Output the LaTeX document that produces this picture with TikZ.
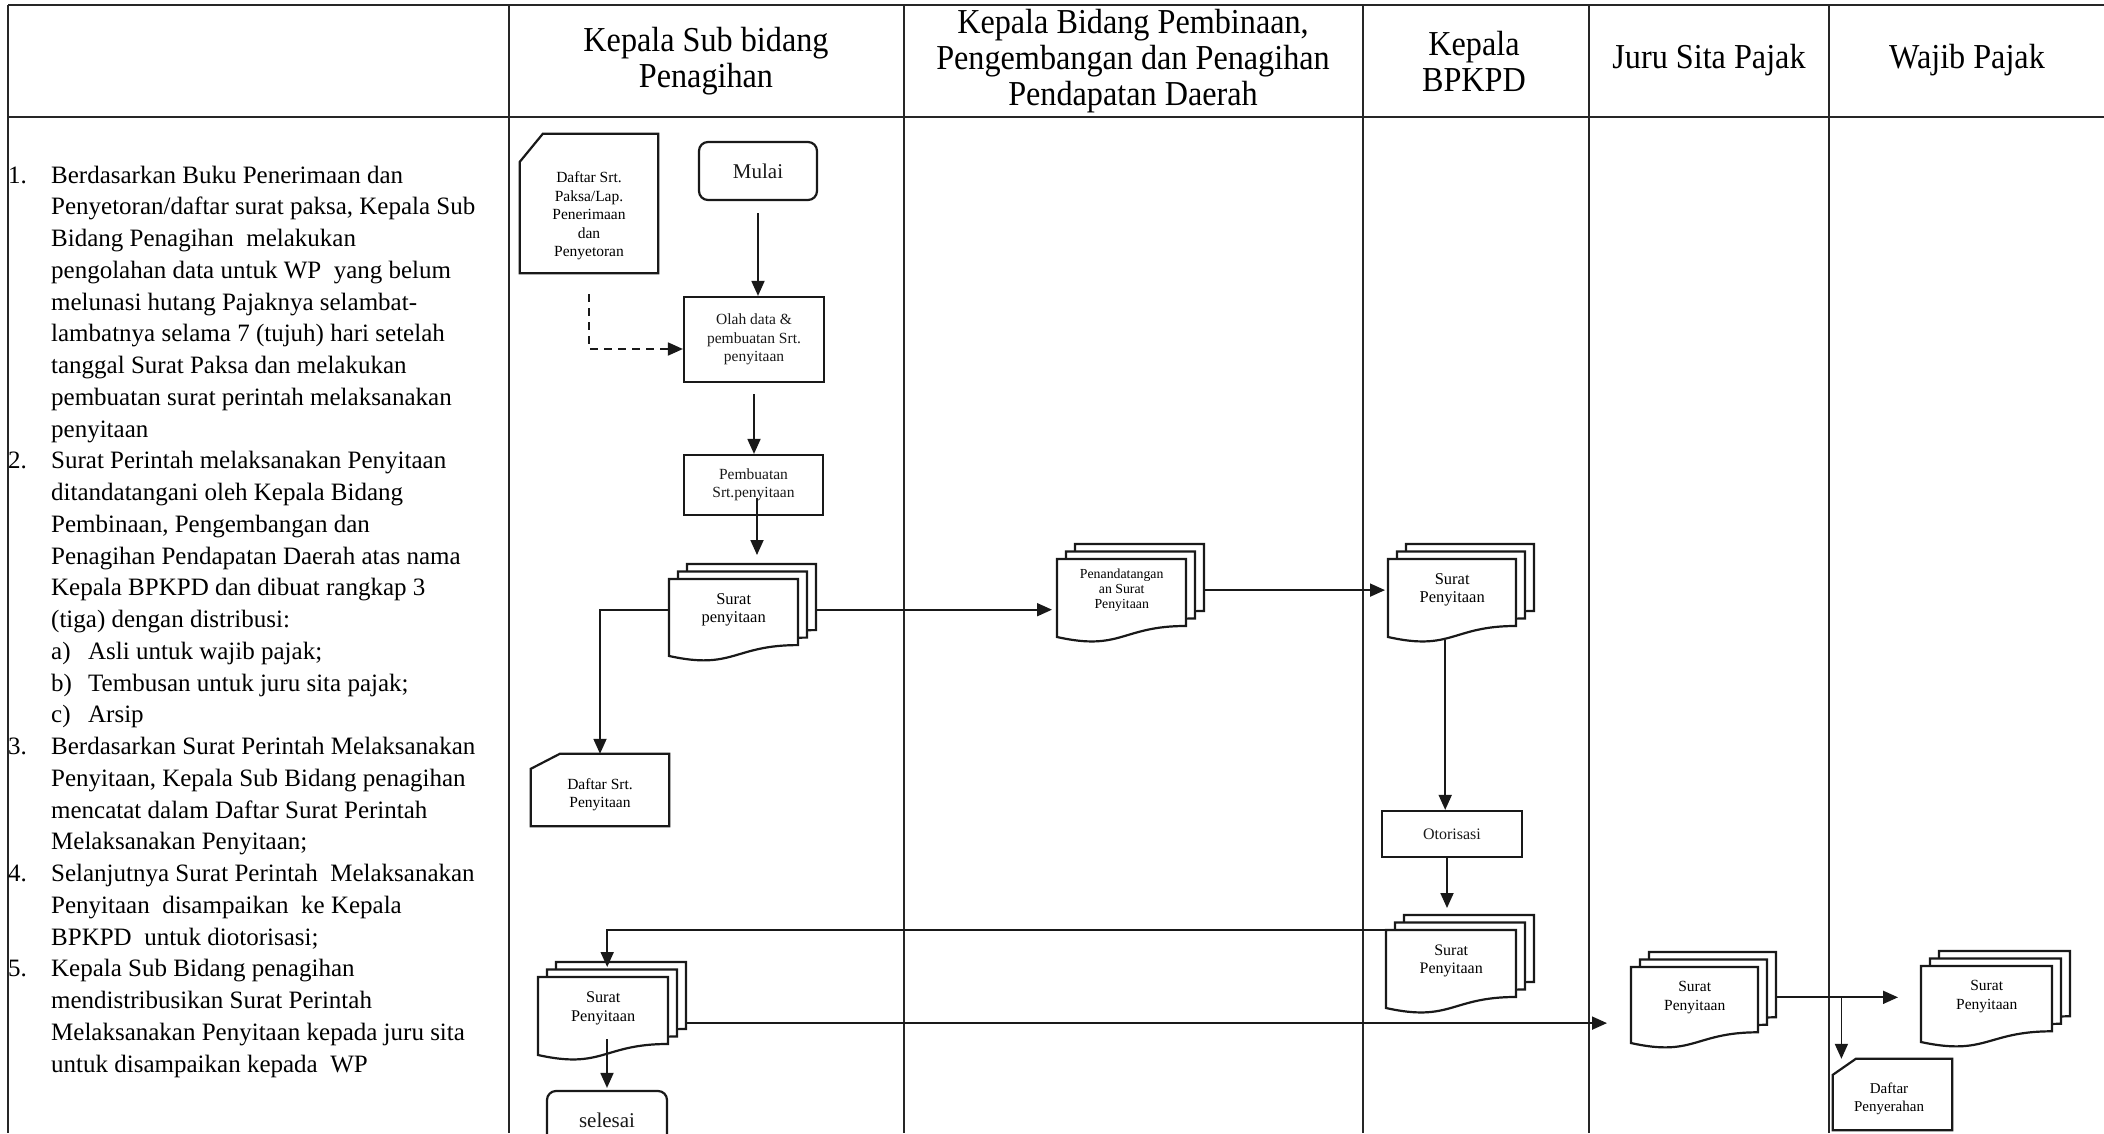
\documentclass[tikz,border=0pt]{standalone}
\usepackage{fontspec}
\setmainfont{Liberation Serif}
\newfontfamily\hdrfont[FakeStretch=0.92]{Liberation Serif}
\usetikzlibrary{arrows.meta,calc}

\tikzset{
  grid/.style={line width=1.3pt, black!85},
  shapeline/.style={line width=2.2pt, black!90},
  box/.style={draw, shapeline, fill=white, inner sep=0pt, align=center},
  term/.style={box, rounded corners=9pt},
  flow/.style={line width=1.8pt, black!90, -{Triangle[length=15pt,width=13pt]}},
  hdr/.style={align=center, font=\hdrfont\fontsize{35}{36}\selectfont},
  small/.style={align=center, font=\fontsize{15.5}{18.5}\selectfont},
  big/.style={align=center, font=\fontsize{21}{24}\selectfont},
}

% stacked "multi-document" symbol: name, x0, y0, width, height, font, text
\newcommand\mdoc[7]{%
  \foreach \k in {2,1,0}{%
    \draw[shapeline, fill=white]
      ({#2+9*\k},{#3-7.5*\k}) -- ({#2+9*\k+#4},{#3-7.5*\k})
      -- ({#2+9*\k+#4},{#3-7.5*\k+0.802*#5})
      .. controls ({#2+9*\k+0.5*#4},{#3-7.5*\k+0.802*#5}) and ({#2+9*\k+0.5*#4},{#3-7.5*\k+1.1075*#5})
      .. ({#2+9*\k},{#3-7.5*\k+0.934*#5}) -- cycle;
  }
  \node[inner sep=0pt, minimum width=#4, minimum height={0.74*#5}, anchor=north west,
        align=center, font=#6] (#1) at (#2,#3) {#7};
}

\begin{document}
\begin{tikzpicture}[x=1pt,y=-1pt]
\useasboundingbox (0,0) rectangle (2104,1133);
\clip (0,0) rectangle (2104,1133);
\fill[white] (0,0) rectangle (2104,1133);

% table frame and swimlane dividers
\draw[grid] (8,5) -- (2104,5);
\draw[grid] (8,117) -- (2104,117);
\foreach \xx in {8,509,904,1363,1589,1829}
  \draw[grid] (\xx,5) -- (\xx,1133);

% lane headings
\node[hdr] (h1) at (706,61) {Kepala Sub bidang\\Penagihan};
\node[hdr] (h2) at (1133,61.5) {Kepala Bidang Pembinaan,\\Pengembangan dan Penagihan\\Pendapatan Daerah};
\node[hdr] (h3) at (1474,61) {Kepala\\BPKPD};
\node[hdr] (h4) at (1709,60) {Juru Sita Pajak};
\node[hdr] (h5) at (1967,60) {Wajib Pajak};

% procedure description
\node[anchor=north west, inner sep=0pt, font=\fontsize{25}{31.75}\selectfont] (steps) at (8,160.8) {%
\begin{tabular}{@{}p{43pt}@{}l@{}}
1. & Berdasarkan Buku Penerimaan dan\\
   & Penyetoran/daftar surat paksa, Kepala Sub\\
   & Bidang Penagihan\ \ melakukan\\
   & pengolahan data untuk WP\ \ yang belum\\
   & melunasi hutang Pajaknya selambat-\\
   & lambatnya selama 7 (tujuh) hari setelah\\
   & tanggal Surat Paksa dan melakukan\\
   & pembuatan surat perintah melaksanakan\\
   & penyitaan\\
2. & Surat Perintah melaksanakan Penyitaan\\
   & ditandatangani oleh Kepala Bidang\\
   & Pembinaan, Pengembangan dan\\
   & Penagihan Pendapatan Daerah atas nama\\
   & Kepala BPKPD dan dibuat rangkap 3\\
   & (tiga) dengan distribusi:\\
   & \makebox[37pt][l]{a)}Asli untuk wajib pajak;\\
   & \makebox[37pt][l]{b)}Tembusan untuk juru sita pajak;\\
   & \makebox[37pt][l]{c)}Arsip\\
3. & Berdasarkan Surat Perintah Melaksanakan\\
   & Penyitaan, Kepala Sub Bidang penagihan\\
   & mencatat dalam Daftar Surat Perintah\\
   & Melaksanakan Penyitaan;\\
4. & Selanjutnya Surat Perintah\ \ Melaksanakan\\
   & Penyitaan\ \ disampaikan\ \ ke Kepala\\
   & BPKPD\ \ untuk diotorisasi;\\
5. & Kepala Sub Bidang penagihan\\
   & mendistribusikan Surat Perintah\\
   & Melaksanakan Penyitaan kepada juru sita\\
   & untuk disampaikan kepada\ \ WP\\
\end{tabular}};

% source document card
\node[minimum width=138, minimum height=139, inner sep=0pt] (card1) at (589,203.5) {};
\draw[shapeline, fill=white] ([yshift=-28pt]card1.north west) -- ([xshift=23pt]card1.north west)
  -- (card1.north east) -- (card1.south east) -- (card1.south west) -- cycle;
\node[small] (card1t) at ([yshift=-12.5pt]card1.center) {Daftar Srt.\\Paksa/Lap.\\Penerimaan\\dan\\Penyetoran};

% process steps of the first lane
\node[term, big, minimum width=118, minimum height=58] (mulai) at (758,171) {Mulai};
\node[box, small, minimum width=140, minimum height=85] (olah) at (754,339.5) {Olah data \&\\pembuatan Srt.\\penyitaan};
\node[box, small, minimum width=139, minimum height=60] (pemb) at (753.5,485) {Pembuatan\\Srt.penyitaan};

\mdoc{sp1}{669}{579}{129}{82.4}{\fontsize{16.5}{18}\selectfont}{Surat\\penyitaan}

\node[minimum width=138, minimum height=72, inner sep=0pt] (card2) at (600,790) {};
\draw[shapeline, fill=white] ([yshift=-15pt]card2.north west) -- ([xshift=29pt]card2.north west)
  -- (card2.north east) -- (card2.south east) -- (card2.south west) -- cycle;
\node[small] (card2t) at ([yshift=-4.5pt]card2.center) {Daftar Srt.\\Penyitaan};

\mdoc{sp4}{538}{977}{130}{83.5}{\fontsize{16.3}{19}\selectfont}{Surat\\Penyitaan}
\node[term, big, minimum width=120, minimum height=58] (selesai) at (607,1120) {selesai};

% signing, authorisation and distribution
\mdoc{pen}{1057}{559}{129}{83.5}{\fontsize{13.8}{15}\selectfont}{Penandatangan\\an Surat\\Penyitaan}
\mdoc{sp2}{1388}{559}{128}{83.5}{\fontsize{16.5}{18}\selectfont}{Surat\\Penyitaan}
\node[box, small, font=\fontsize{16}{18}\selectfont, minimum width=140, minimum height=46] (oto) at (1452,834) {Otorisasi};
\mdoc{sp3}{1386}{930}{130}{83.5}{\fontsize{16}{18}\selectfont}{Surat\\Penyitaan}
\mdoc{sp5}{1631}{967}{127}{81.4}{\fontsize{15.5}{19}\selectfont}{Surat\\Penyitaan}
\mdoc{sp6}{1921}{966}{131}{81.4}{\fontsize{15.5}{19}\selectfont}{Surat\\Penyitaan}

\node[minimum width=119, minimum height=71, inner sep=0pt] (card3) at (1892.5,1094.5) {};
\draw[shapeline, fill=white] ([yshift=-16pt]card3.north west) -- ([xshift=23pt]card3.north west)
  -- (card3.north east) -- (card3.south east) -- (card3.south west) -- cycle;
\node[small, font=\fontsize{15}{18}\selectfont] (card3t) at ([xshift=-3.5pt,yshift=-4.5pt]card3.center) {Daftar\\Penyerahan};

% connectors
\draw[flow, shorten <=12pt] (mulai.south) -- (mulai.south |- olah.north);
\draw[flow, dash pattern=on 8pt off 6pt] ([yshift=-21pt]card1.south) |- ([yshift=-9.5pt]olah.west);
\draw[flow, shorten <=11pt] (olah.south) -- (olah.south |- pemb.north);
\draw[flow] ($(pemb.south)+(3.5,-18)$) -- ($(pemb.south |- sp1.north)+(3.5,-24)$);
\draw[flow] (sp1.west) -| (card2.north);
\draw[flow, shorten >=5pt] ($(sp1.east)+(18,0)$) -- (pen.west |- sp1.east);
\draw[flow, shorten >=3pt] ($(pen.east)+(18,0)$) -- (sp2.west);
\draw[flow] ($(sp2.south)+(-7,19)$) -- ($(sp2.south |- oto.north)+(-7,0)$);
\draw[flow] ($(oto.south)+(-5,0)$) -- ($(oto.south |- sp3.north)+(-5,-22)$);
\draw[flow] (sp3.north west) -| ($(sp4.north)+(4,-10)$);
\coordinate (s4o) at ($(sp4.east)+(18,15)$);
\draw[flow, shorten >=24pt] (s4o) -- (s4o -| sp5.west);
\draw[flow, shorten >=2pt] (selesai.north |- sp4.south) -- (selesai.north);
\draw[flow, shorten >=23pt] ($(sp5.east)+(17,0)$) -- (sp6.west |- sp5.east);
\coordinate (br) at ($(sp5.east)+(83,0)$);
\draw[flow] (br) -- (br |- card3.north);
\end{tikzpicture}
\end{document}
